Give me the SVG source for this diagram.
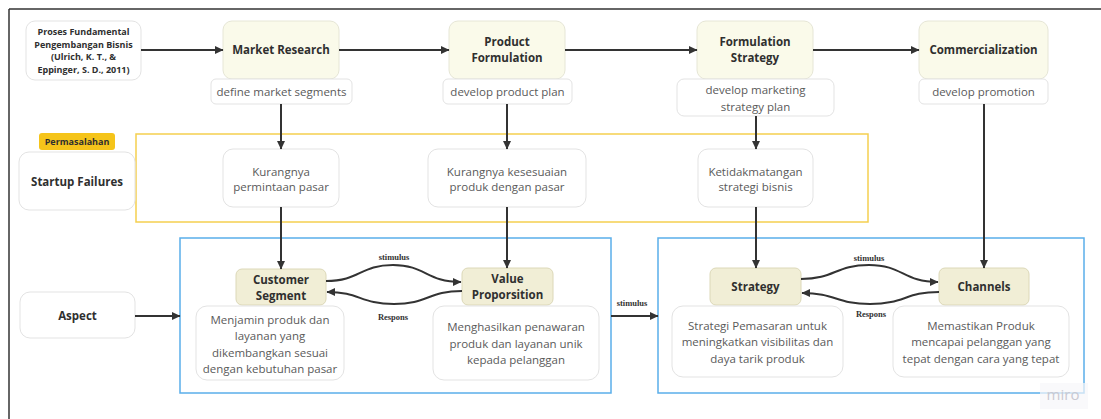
<svg xmlns="http://www.w3.org/2000/svg" width="1101" height="419" viewBox="0 0 1101 419">
<style>
.t{font-family:"Open Sans","Noto Sans",sans-serif;text-anchor:middle}
.b{font-weight:bold;fill:#2f2f2f}
.d{fill:#5a5a5a;font-size:11.5px}
.main{fill:#fafaea;stroke:#e6e6d6;stroke-width:1}
.sub{fill:#fff;stroke:#e3e3e3;stroke-width:1}
.kh{fill:#f1eed6;stroke:#dcd8b8;stroke-width:1}
.c{stroke:#333;stroke-width:2;fill:none;marker-end:url(#ah)}
.lbl{font-family:"Liberation Serif",serif;font-weight:bold;font-size:8.5px;fill:#333;text-anchor:middle}
</style>
<defs>
<marker id="ah" markerUnits="userSpaceOnUse" markerWidth="9" markerHeight="9" refX="8" refY="4.5" orient="auto">
<path d="M0,0.5 L8.5,4.5 L0,8.5 z" fill="#333"/>
</marker>
</defs>
<rect width="1101" height="419" fill="#fff"/>
<g id="frame" stroke="#333" stroke-width="1.5">
<line x1="9" y1="9" x2="1101" y2="9"/>
<line x1="9" y1="9" x2="9" y2="419"/>
</g>
<g id="containers" fill="none" stroke-width="1.5">
<rect x="136" y="134" width="732" height="88" stroke="#f5cf4f"/>
<rect x="180" y="238" width="431" height="155" stroke="#5aaeea"/>
<rect x="658" y="238" width="426" height="155" stroke="#5aaeea"/>
</g>
<g id="proses">
<rect class="sub" x="26" y="21" width="115" height="59" rx="9"/>
<text class="t b" font-size="9" x="83.5"><tspan x="83.5" y="35">Proses Fundamental</tspan><tspan x="83.5" y="48">Pengembangan Bisnis</tspan><tspan x="83.5" y="60">(Ulrich, K. T., &amp;</tspan><tspan x="83.5" y="73">Eppinger, S. D., 2011)</tspan></text>
</g>
<g id="market-research">
<rect class="main" x="223" y="21" width="116" height="58" rx="9"/>
<text class="t b" font-size="11.5" x="281" y="54">Market Research</text>
</g>
<g id="product-formulation">
<rect class="main" x="449" y="21" width="116" height="58" rx="9"/>
<text class="t b" font-size="11.5"><tspan x="507" y="46">Product</tspan><tspan x="507" y="62">Formulation</tspan></text>
</g>
<g id="formulation-strategy">
<rect class="main" x="697" y="21" width="116" height="58" rx="9"/>
<text class="t b" font-size="11.5"><tspan x="755" y="46">Formulation</tspan><tspan x="755" y="62">Strategy</tspan></text>
</g>
<g id="commercialization">
<rect class="main" x="919" y="21" width="129" height="58" rx="9"/>
<text class="t b" font-size="11.5" x="983.5" y="54">Commercialization</text>
</g>
<g id="define-market">
<rect class="sub" x="211" y="79" width="141" height="25" rx="5"/>
<text class="t d" x="281.5" y="96">define market segments</text>
</g>
<g id="develop-product">
<rect class="sub" x="443" y="79" width="129" height="25" rx="5"/>
<text class="t d" x="507.5" y="96">develop product plan</text>
</g>
<g id="develop-marketing">
<rect class="sub" x="677" y="79" width="157" height="37" rx="7"/>
<text class="t d"><tspan x="755.5" y="94">develop marketing</tspan><tspan x="755.5" y="111">strategy plan</tspan></text>
</g>
<g id="develop-promotion">
<rect class="sub" x="919" y="79" width="129" height="25" rx="5"/>
<text class="t d" x="983.5" y="96">develop promotion</text>
</g>
<g id="permasalahan">
<rect x="39" y="133" width="76" height="17" rx="3" fill="#f5c41a"/>
<text class="t b" font-size="9" x="77" y="145">Permasalahan</text>
</g>
<g id="startup-failures">
<rect class="sub" x="19" y="152" width="116" height="58" rx="10"/>
<text class="t b" font-size="11.5" x="77" y="186">Startup Failures</text>
</g>
<g id="kurang-permintaan">
<rect class="sub" x="223" y="149" width="116" height="58" rx="10"/>
<text class="t d"><tspan x="281" y="176">Kurangnya</tspan><tspan x="281" y="191">permintaan pasar</tspan></text>
</g>
<g id="kurang-kesesuaian">
<rect class="sub" x="428" y="149" width="158" height="58" rx="10"/>
<text class="t d"><tspan x="507" y="176">Kurangnya kesesuaian</tspan><tspan x="507" y="191">produk dengan pasar</tspan></text>
</g>
<g id="ketidakmatangan">
<rect class="sub" x="698" y="149" width="115" height="58" rx="10"/>
<text class="t d"><tspan x="755.5" y="176">Ketidakmatangan</tspan><tspan x="755.5" y="191">strategi bisnis</tspan></text>
</g>
<g id="aspect">
<rect class="sub" x="20" y="292" width="115" height="46" rx="10"/>
<text class="t b" font-size="11.5" x="77.5" y="320">Aspect</text>
</g>
<g id="customer-segment">
<rect class="kh" x="236" y="269" width="90" height="36" rx="6"/>
<text class="t b" font-size="11.5"><tspan x="281" y="284">Customer</tspan><tspan x="281" y="300">Segment</tspan></text>
</g>
<g id="menjamin">
<rect class="sub" x="196" y="306" width="148" height="74" rx="11"/>
<text class="t d" font-size="12"><tspan x="270" y="324">Menjamin produk dan</tspan><tspan x="270" y="340">layanan yang</tspan><tspan x="270" y="357">dikembangkan sesuai</tspan><tspan x="270" y="373">dengan kebutuhan pasar</tspan></text>
</g>
<g id="value-proporsition">
<rect class="kh" x="462" y="268" width="91" height="37" rx="6"/>
<text class="t b" font-size="11.5"><tspan x="507.5" y="283">Value</tspan><tspan x="507.5" y="299">Proporsition</tspan></text>
</g>
<g id="menghasilkan">
<rect class="sub" x="433" y="306" width="166" height="74" rx="11"/>
<text class="t d" font-size="12"><tspan x="516" y="331">Menghasilkan penawaran</tspan><tspan x="516" y="348">produk dan layanan unik</tspan><tspan x="516" y="364">kepada pelanggan</tspan></text>
</g>
<g id="strategy">
<rect class="kh" x="710" y="268" width="91" height="37" rx="6"/>
<text class="t b" font-size="11.5" x="755.5" y="291">Strategy</text>
</g>
<g id="channels">
<rect class="kh" x="939" y="268" width="90" height="37" rx="6"/>
<text class="t b" font-size="11.5" x="984" y="291">Channels</text>
</g>
<g id="strategi-pemasaran">
<rect class="sub" x="672" y="306" width="171" height="71" rx="11"/>
<text class="t d" font-size="12"><tspan x="757.5" y="330">Strategi Pemasaran untuk</tspan><tspan x="757.5" y="346">meningkatkan visibilitas dan</tspan><tspan x="757.5" y="363">daya tarik produk</tspan></text>
</g>
<g id="memastikan">
<rect class="sub" x="893" y="306" width="176" height="71" rx="11"/>
<text class="t d" font-size="12"><tspan x="981" y="330">Memastikan Produk</tspan><tspan x="981" y="346">mencapai pelanggan yang</tspan><tspan x="981" y="363">tepat dengan cara yang tepat</tspan></text>
</g>
<g id="connectors">
<line class="c" x1="141" y1="50" x2="223" y2="50"/>
<line class="c" x1="339" y1="50" x2="449" y2="50"/>
<line class="c" x1="565" y1="50" x2="697" y2="50"/>
<line class="c" x1="813" y1="50" x2="919" y2="50"/>
<line class="c" x1="281" y1="104" x2="281" y2="149"/>
<line class="c" x1="281" y1="207" x2="281" y2="269"/>
<line class="c" x1="507" y1="104" x2="507" y2="149"/>
<line class="c" x1="507" y1="207" x2="507" y2="268"/>
<line class="c" x1="756" y1="116" x2="756" y2="149"/>
<line class="c" x1="756" y1="207" x2="756" y2="268"/>
<line class="c" x1="984" y1="104" x2="984" y2="268"/>
<line class="c" x1="135" y1="316" x2="180" y2="316"/>
<line class="c" x1="611" y1="316" x2="658" y2="316"/>
<path class="c" d="M326,281 C360,281 360,265 393,265 C426,265 426,282 461,282"/>
<path class="c" d="M462,291 C428,291 428,304 394,304 C360,304 360,292 327,292"/>
<path class="c" d="M801,279 C835,279 835,265 869,265 C903,265 903,282 938,282"/>
<path class="c" d="M939,292 C905,292 905,304 870,304 C836,304 836,293 802,293"/>
<text class="lbl" x="394" y="260">stimulus</text>
<text class="lbl" x="393" y="320">Respons</text>
<text class="lbl" x="632" y="306">stimulus</text>
<text class="lbl" x="869" y="261">stimulus</text>
<text class="lbl" x="871" y="317">Respons</text>
</g>
<g id="watermark">
<rect x="1040" y="383" width="48" height="26" fill="#f7f7f9" opacity="0.7"/>
<text x="1063" y="400" font-family="Open Sans,sans-serif" font-size="15" fill="#c9c9d2" text-anchor="middle">miro</text>
</g>
</svg>
